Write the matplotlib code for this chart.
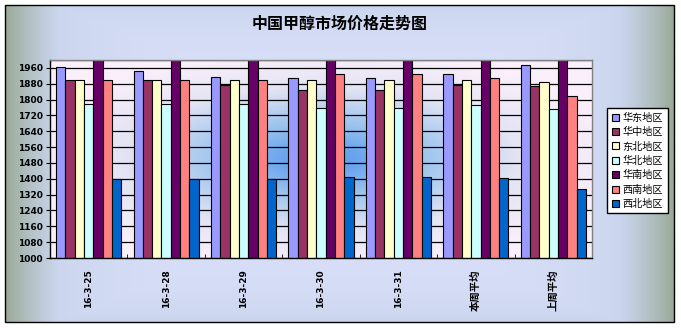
import numpy as np
import matplotlib
matplotlib.use("Agg")
import matplotlib.pyplot as plt
from matplotlib.patches import Rectangle
from matplotlib.colors import LinearSegmentedColormap

plt.rcParams['font.family'] = ['DejaVu Sans', 'Noto Sans CJK SC']

title = '中国甲醇市场价格走势图'
dates = ['16-3-25', '16-3-28', '16-3-29', '16-3-30', '16-3-31', '本周平均', '上周平均']
regions = ['华东地区', '华中地区', '东北地区', '华北地区', '华南地区', '西南地区', '西北地区']

huadong = [1965, 1945, 1915, 1910, 1910, 1930, 1975]
huazhong = [1900, 1900, 1875, 1850, 1850, 1875, 1870]
dongbei = [1900, 1900, 1900, 1900, 1900, 1900, 1890]
huabei = [1780, 1780, 1780, 1760, 1760, 1775, 1755]
huanan = [2150, 2150, 2150, 2150, 2150, 2150, 2150]
xinan = [1900, 1900, 1900, 1930, 1930, 1910, 1820]
xibei = [1400, 1400, 1400, 1410, 1410, 1403, 1350]

series = [huadong, huazhong, dongbei, huabei, huanan, xinan, xibei]
colors = ['#9999FF', '#993366', '#FFFFCC', '#CCFFFF', '#660066', '#FF8080', '#0066CC']

W, H = 681, 328
fig = plt.figure(figsize=(W / 100, H / 100), dpi=100)

# background of the whole chart: light centre, grey-green edges
bg = fig.add_axes([0, 0, 1, 1])
bg.set_xlim(0, W)
bg.set_ylim(H, 0)
bg.axis('off')
u = np.linspace(-1, 1, 400)
v = np.linspace(-1, 1, 200)
U, V = np.meshgrid(u, v)
d = np.clip(np.maximum(np.abs(U), 0.85 * np.abs(V) ** 1.5), 0, 1) ** 4
bg_cmap = LinearSegmentedColormap.from_list('bg', ['#D8DEF8', '#CBD6EE', '#9AAA98'])
bg.imshow(d, cmap=bg_cmap, extent=(5, 674, 322, 5), aspect='auto', vmin=0, vmax=1)
bg.add_patch(Rectangle((5, 5), 669, 317, fill=False, ec='black', lw=1))
bg.text(340, 24, title, ha='center', va='center', fontsize=11.5, fontweight='bold',
        family=['Noto Sans CJK SC', 'DejaVu Sans'])

# plot area
ax = fig.add_axes([50 / W, (H - 258) / H, (592 - 50) / W, (258 - 60) / H])
ymin, ymax = 1000, 2000
n = len(dates)
ax.set_xlim(0, n)
ax.set_ylim(ymin, ymax)

pu = np.linspace(-1, 1, 300)
pv = np.linspace(-1, 1, 200)
PU, PV = np.meshgrid(pu, pv)
r = np.clip(np.sqrt(PU ** 2 + PV ** 2) / 1.1, 0, 1)
pa_cmap = LinearSegmentedColormap.from_list('pa', ['#4F94EE', '#9CC4EE', '#E4E4F4', '#FBEFFB'])
ax.imshow(r, cmap=pa_cmap, extent=(0, n, ymin, ymax), aspect='auto', zorder=0)

yticks = np.arange(1000, 2000, 80)
for yt in list(yticks) + [ymax]:
    ax.axhline(yt, color='black', lw=0.9, zorder=1)

bw = 0.84 / len(series)
x = np.arange(n) + 0.5
for i, (vals, c, name) in enumerate(zip(series, colors, regions)):
    off = (i - (len(series) - 1) / 2) * bw
    ax.bar(x + off, vals, width=bw, color=c, edgecolor='black', lw=0.8,
           label=name, zorder=2)

ax.set_yticks(yticks)
ax.set_yticklabels([str(t) for t in yticks], fontsize=6.5, fontweight='bold')
ax.set_xticks(x)
ax.set_xticklabels(dates, rotation=90, fontsize=6.5, fontweight='bold',
                   family=['DejaVu Sans', 'Noto Sans CJK SC'])
for lab in ax.get_xticklabels():
    if not lab.get_text()[0].isdigit():
        lab.set_fontsize(7.5)
ax.tick_params(axis='x', length=0, pad=8)
ax.set_xticks(np.arange(1, n), minor=True)
ax.tick_params(axis='x', which='minor', direction='in', length=3)
ax.tick_params(axis='y', length=3, width=0.8, pad=2)
for s in ax.spines.values():
    s.set_linewidth(1)
ax.spines['top'].set_color('#808080')
ax.spines['right'].set_color('#808080')

leg = fig.legend(loc='upper left', bbox_to_anchor=(602 / W, 1 - 103 / H),
                 prop={'family': ['Noto Sans CJK SC', 'DejaVu Sans'], 'size': 7.3},
                 frameon=True, fancybox=False, framealpha=1, edgecolor='black',
                 handlelength=0.7, handleheight=0.7, handletextpad=0.4,
                 labelspacing=0.42, borderpad=0.45)
leg.get_frame().set_linewidth(1)

fig.savefig('out.png', dpi=100)
